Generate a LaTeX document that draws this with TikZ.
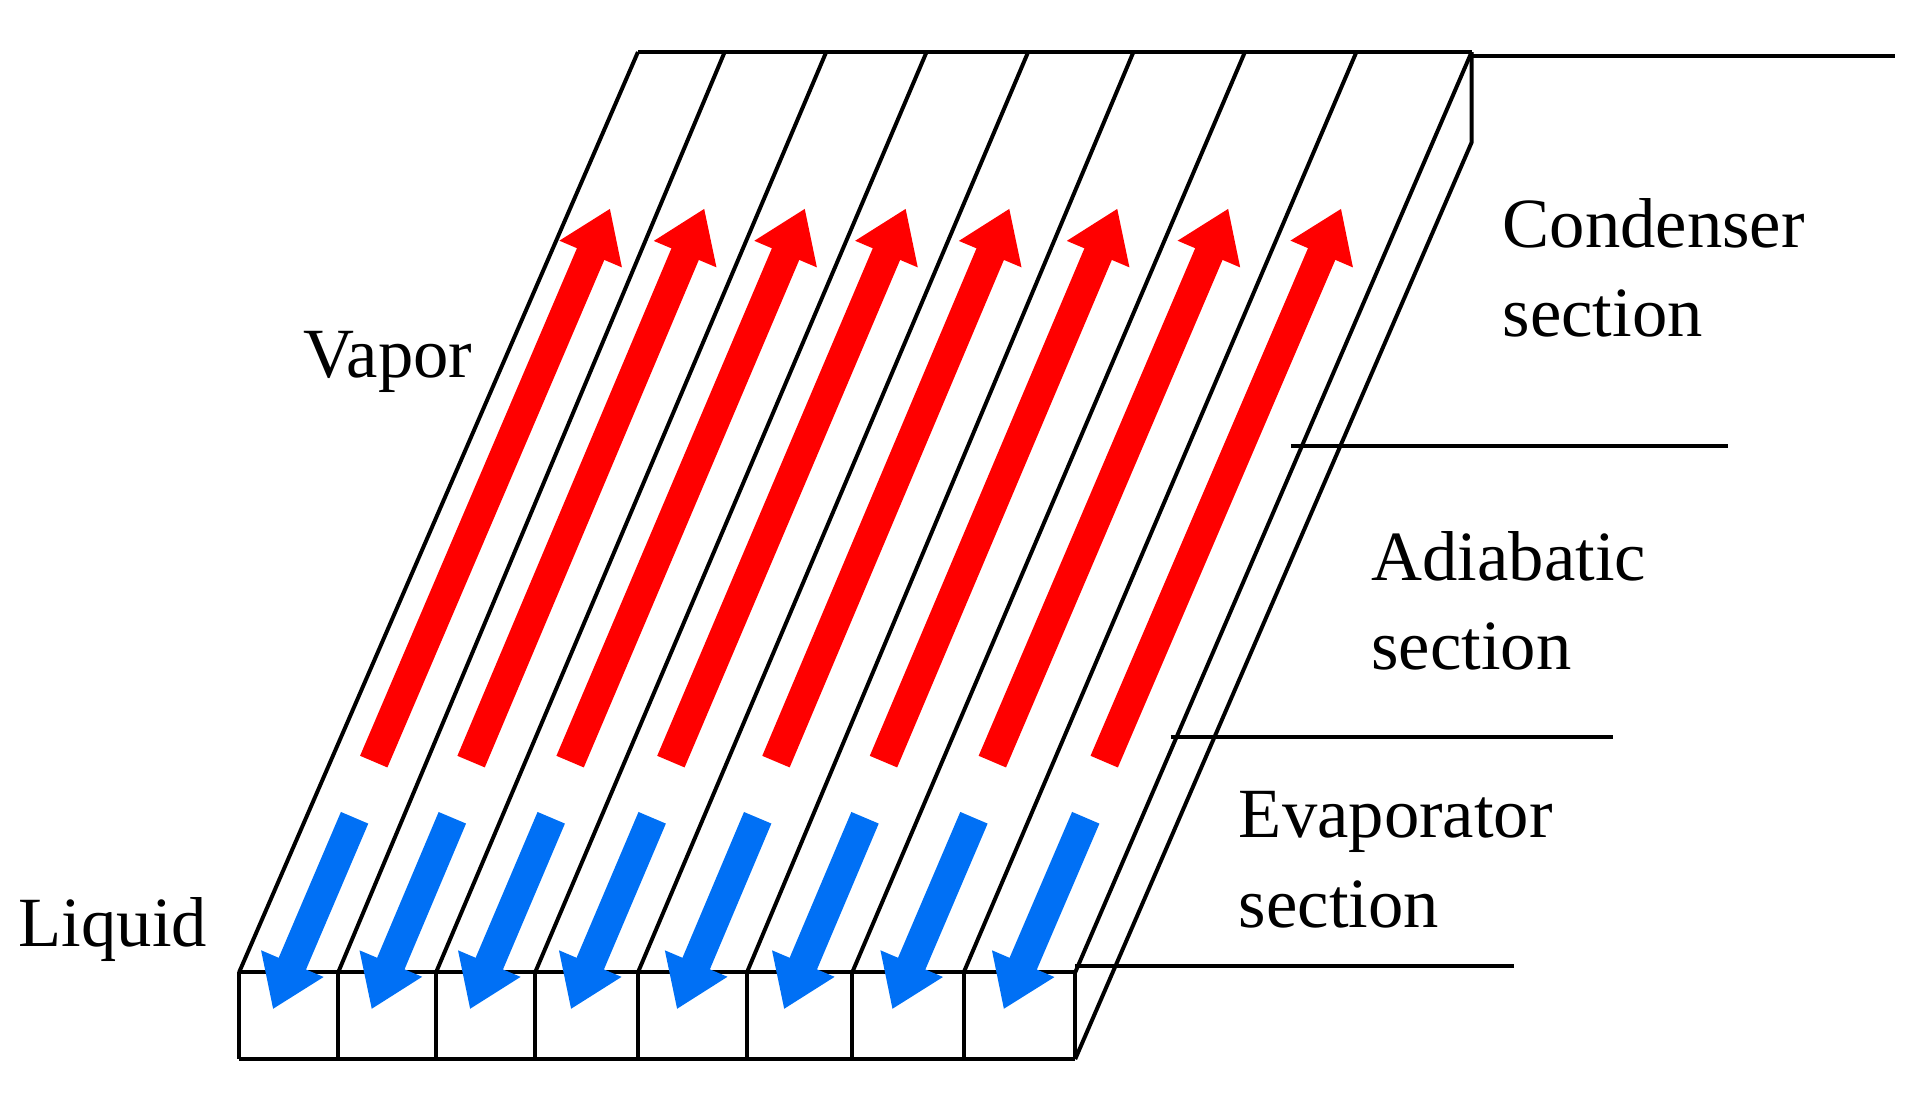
\documentclass[tikz,border=0pt]{standalone}
\usepackage{fontspec}
\setmainfont{Liberation Serif}
\usetikzlibrary{calc,arrows.meta}
\definecolor{vred}{RGB}{255,0,0}
\definecolor{lblue}{RGB}{0,112,245}
\begin{document}
\begin{tikzpicture}[x=1pt,y=-1pt,
  edge/.style={black,line width=3.2pt},
  vap/.style={vred,line width=24pt,-{Triangle[width=52pt,length=40pt]}},
  liq/.style={lblue,line width=24pt,-{Triangle[width=52pt,length=40pt]}},
  lab/.style={font=\fontsize{57}{72}\selectfont,align=left,anchor=west,inner sep=0}]
\useasboundingbox (0,0) rectangle (1550,888);
\foreach \i/\xb/\xt in {0/193/515,1/273/585,2/352/667,3/432/748,4/515/830,5/603/915,6/688/1005,7/778/1095,8/868/1188}{
  \coordinate (b\i) at (\xb,785);
  \coordinate (t\i) at (\xt,42);
  \coordinate (d\i) at (\xb,855);
}
\draw[edge] (b0) -- (b8) (d0) -- (d8);
\foreach \i in {0,...,8}{\draw[edge] (b\i) -- (d\i);}
\foreach \i in {0,...,8}{\draw[edge] (b\i) -- (t\i);}
\draw[edge] (t0) -- (t8);
\coordinate (rb) at (1188,115);
\draw[edge] (d8) -- (rb) -- (t8);
\coordinate (h1a) at (1188,45); \coordinate (h1b) at (1530,45);
\coordinate (h2a) at (1042,360); \coordinate (h2b) at (1395,360);
\coordinate (h3a) at (945,595); \coordinate (h3b) at (1302,595);
\coordinate (h4a) at (868,780); \coordinate (h4b) at (1222,780);
\draw[edge] (h1a)--(h1b) (h2a)--(h2b) (h3a)--(h3b) (h4a)--(h4b);
\foreach \i [evaluate=\i as \j using int(\i+1)] in {0,...,7}{
  \coordinate (rt\i) at ($($(b\i)!0.229!(t\i)$)!0.45!($(b\j)!0.229!(t\j)$)$);
  \coordinate (rh\i) at ($($(b\i)!0.83!(t\i)$)!0.45!($(b\j)!0.83!(t\j)$)$);
  \coordinate (lt\i) at ($($(b\i)!0.168!(t\i)$)!0.5!($(b\j)!0.168!(t\j)$)$);
  \coordinate (lh\i) at ($($(b\i)!-0.04!(t\i)$)!0.5!($(b\j)!-0.04!(t\j)$)$);
  \draw[vap] (rt\i) -- (rh\i);
  \draw[liq] (lt\i) -- (lh\i);
}
\node[lab] (vapor) at (245,292) {Vapor};
\node[lab] (liquid) at (15,750) {Liquid};
\node[lab] (cond) at (1213,216) {Condenser\\section};
\node[lab] (adia) at (1107,485) {Adiabatic\\section};
\node[lab] (evap) at (1000,694) {Evaporator\\section};
\end{tikzpicture}
\end{document}
